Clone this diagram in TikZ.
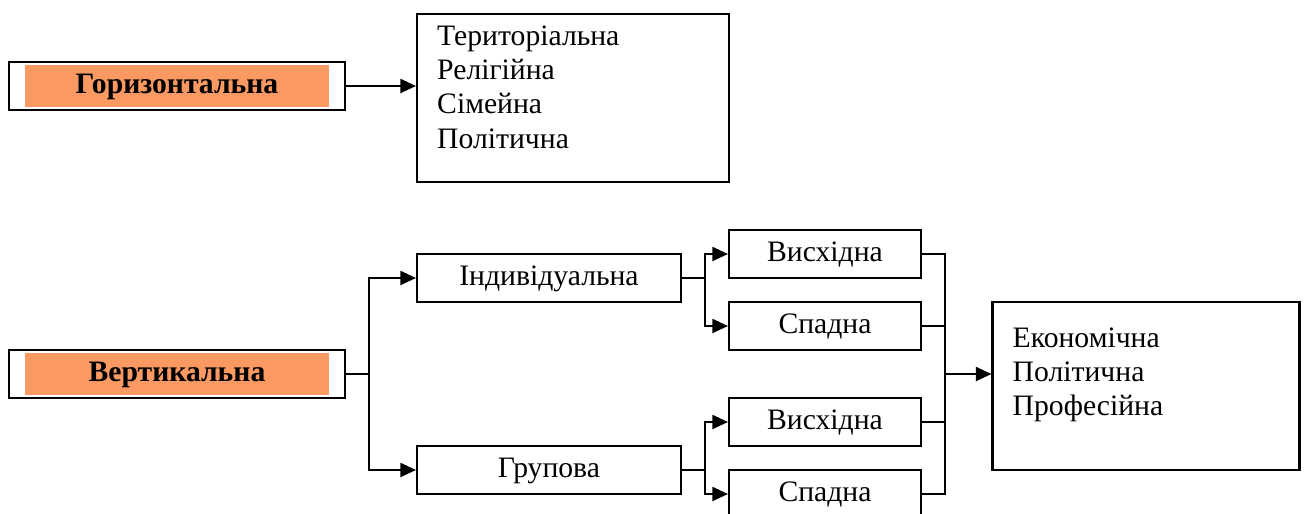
\documentclass[tikz,border=0pt]{standalone}
\usepackage{fontspec}
\setmainfont{Liberation Serif}
\usepackage{xcolor}
\usepackage{tikz}
\usetikzlibrary{arrows.meta}

\definecolor{salmon}{RGB}{250,153,98}
\def\pu{0.0135cm}
\newcommand\diagfont{\fontsize{11.4pt}{13.1pt}\selectfont}

\tikzset{
    box/.style={draw, line width=0.8pt, minimum height=48*\pu, inner sep=0pt,
        text height=8pt, text depth=2.6pt},
    headbox/.style={box, minimum width=336*\pu, font=\diagfont\bfseries,
        path picture={\fill[salmon]
            ([xshift=16*\pu, yshift=-3*\pu]path picture bounding box.north west) rectangle
            ([xshift=-16*\pu, yshift=3*\pu]path picture bounding box.south east);}},
    arr/.style={-{Triangle[length=6pt, width=5.4pt]}},
    wire/.style={line width=0.8pt}
}

\begin{document}
\begin{tikzpicture}[x=\pu, y=-\pu, font=\diagfont]
    \useasboundingbox (0,0) rectangle (1308,513);

    % left column
    \node[headbox] (hor) at (177,86) {Горизонтальна};
    \node[headbox] (vert) at (177,374) {Вертикальна};

    % list boxes
    \node[box, text height=, text depth=, minimum width=312*\pu, minimum height=168*\pu,
        label={[anchor=north west, align=left, inner sep=0pt, xshift=0.28cm, yshift=-0.17cm]north west:Територіальна\\Релігійна\\Сімейна\\Політична}]
        (terr) at (573,98) {};
    \node[box, text height=, text depth=, minimum width=307*\pu, minimum height=168*\pu,
        label={[anchor=north west, align=left, inner sep=0pt, xshift=0.28cm, yshift=-0.36cm]north west:Економічна\\Політична\\Професійна}]
        (econ) at (1146,386) {};

    % middle
    \node[box, minimum width=264*\pu] (ind) at (549,278) {Індивідуальна};
    \node[box, minimum width=264*\pu] (grp) at (549,470) {Групова};

    \node[box, minimum width=192*\pu] (up1) at (825,254) {Висхідна};
    \node[box, minimum width=192*\pu] (down1) at (825,326) {Спадна};
    \node[box, minimum width=192*\pu] (up2) at (825,422) {Висхідна};
    \node[box, minimum width=192*\pu] (down2) at (825,494) {Спадна};

    \coordinate (vsplit) at (369,374);
    \coordinate (isplit) at (705,278);
    \coordinate (gsplit) at (705,470);
    \coordinate (join) at (945,374);

    % connectors
    \draw[wire, arr] (hor.east) -- (hor.east -| terr.west);

    \draw[wire] (vert.east) -- (vsplit);
    \draw[wire, arr] (vsplit) |- (ind.west);
    \draw[wire, arr] (vsplit) |- (grp.west);

    \draw[wire] (ind.east) -- (isplit);
    \draw[wire, arr] (isplit) |- (up1.west);
    \draw[wire, arr] (isplit) |- (down1.west);

    \draw[wire] (grp.east) -- (gsplit);
    \draw[wire, arr] (gsplit) |- (up2.west);
    \draw[wire, arr] (gsplit) |- (down2.west);

    \foreach \n in {up1,down1,up2,down2}
        \draw[wire] (\n.east) -| (join);
    \draw[wire, arr] (join) -- (join -| econ.west);

\end{tikzpicture}
\end{document}
